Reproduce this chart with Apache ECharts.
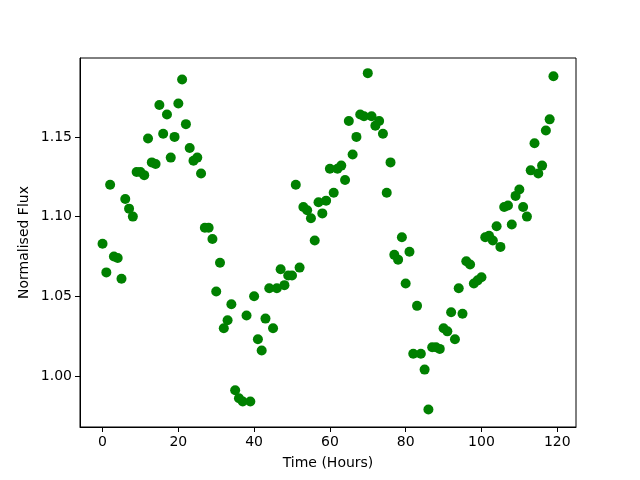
<!DOCTYPE html>
<html style="height: 100%">
	<head>
		<meta charset="utf-8">
	</head>
	<body style="height: 100%; margin: 0">
		<div id="container" style="width: 640px; height: 480px"></div>
		<script type="text/javascript" src="https://cdn.jsdelivr.net/npm/echarts@6/dist/echarts.min.js"></script>
		<script type="text/javascript">
			// time in hours
			var hours = [
				0, 1, 2, 3, 4, 5, 6, 7, 8, 9, 10, 11, 12, 13, 14, 15, 16, 17, 18, 19,
				20, 21, 22, 23, 24, 25, 26, 27, 28, 29, 30, 31, 32, 33, 34, 35, 36, 37, 38, 39,
				40, 41, 42, 43, 44, 45, 46, 47, 48, 49, 50, 51, 52, 53, 54, 55, 56, 57, 58, 59,
				60, 61, 62, 63, 64, 65, 66, 67, 68, 69, 70, 71, 72, 73, 74, 75, 76, 77, 78, 79,
				80, 81, 82, 83, 84, 85, 86, 87, 88, 89, 90, 91, 92, 93, 94, 95, 96, 97, 98, 99,
				100, 101, 102, 103, 104, 105, 106, 107, 108, 109, 110, 111, 112, 113, 114, 115, 116, 117, 118, 119
			];
			// normalised flux
			var flux = [
				1.083, 1.065, 1.120, 1.075, 1.074, 1.061, 1.111, 1.105, 1.100, 1.128,
				1.128, 1.126, 1.149, 1.134, 1.133, 1.170, 1.152, 1.164, 1.137, 1.150,
				1.171, 1.186, 1.158, 1.143, 1.135, 1.137, 1.127, 1.093, 1.093, 1.086,
				1.053, 1.071, 1.030, 1.035, 1.045, 0.991, 0.986, 0.984, 1.038, 0.984,
				1.050, 1.023, 1.016, 1.036, 1.055, 1.030, 1.055, 1.067, 1.057, 1.063,
				1.063, 1.120, 1.068, 1.106, 1.104, 1.099, 1.085, 1.109, 1.102, 1.110,
				1.130, 1.115, 1.130, 1.132, 1.123, 1.160, 1.139, 1.150, 1.164, 1.163,
				1.190, 1.163, 1.157, 1.160, 1.152, 1.115, 1.134, 1.076, 1.073, 1.087,
				1.058, 1.078, 1.014, 1.044, 1.014, 1.004, 0.979, 1.018, 1.018, 1.017,
				1.030, 1.028, 1.040, 1.023, 1.055, 1.039, 1.072, 1.070, 1.058, 1.060,
				1.062, 1.087, 1.088, 1.085, 1.094, 1.081, 1.106, 1.107, 1.095, 1.113,
				1.117, 1.106, 1.100, 1.129, 1.146, 1.127, 1.132, 1.154, 1.161, 1.188
			];
			var xTicks = [0, 20, 40, 60, 80, 100, 120];
			var yTicks = [1.00, 1.05, 1.10, 1.15];

			var points = [];
			for (var i = 0; i < hours.length; i++) {
				points.push([hours[i], flux[i]]);
			}

			var dom = document.getElementById("container");
			var myChart = echarts.init(dom, null, { renderer: 'canvas' });
			var font = 'DejaVu Sans';
			var option = {
				animation: false,
				backgroundColor: '#fff',
				textStyle: { fontFamily: font },
				grid: {
					left: 80,
					top: 58,
					width: 496,
					height: 369,
					show: true,
					borderColor: '#000',
					borderWidth: 1
				},
				xAxis: {
					type: 'value',
					min: -5.95,
					max: 124.95,
					name: 'Time (Hours)',
					nameLocation: 'middle',
					nameGap: 29,
					nameMoveOverlap: false,
					nameTextStyle: { color: '#000', fontSize: 14, fontFamily: font },
					splitLine: { show: false },
					axisLine: { show: true, onZero: false, lineStyle: { color: '#000', width: 1 } },
					axisTick: { show: true, length: 5, lineStyle: { color: '#000' }, customValues: xTicks },
					axisLabel: { color: '#000', fontSize: 14, margin: 8, fontFamily: font, customValues: xTicks }
				},
				yAxis: {
					type: 'value',
					min: 0.968,
					max: 1.1995,
					name: 'Normalised Flux',
					nameLocation: 'middle',
					nameGap: 49,
					nameMoveOverlap: false,
					nameTextStyle: { color: '#000', fontSize: 14, fontFamily: font },
					splitLine: { show: false },
					axisLine: { show: true, onZero: false, lineStyle: { color: '#000', width: 1 } },
					axisTick: { show: true, length: 5, lineStyle: { color: '#000' }, customValues: yTicks },
					axisLabel: {
						color: '#000', fontSize: 14, margin: 8, fontFamily: font, customValues: yTicks,
						formatter: function(v) { return v.toFixed(2); }
					}
				},
				series: [{
					type: 'scatter',
					data: points,
					symbol: 'circle',
					symbolSize: 10,
					itemStyle: { color: '#008000', opacity: 1 }
				}]
			};
			myChart.setOption(option, true);
		</script>
	</body>
</html>
